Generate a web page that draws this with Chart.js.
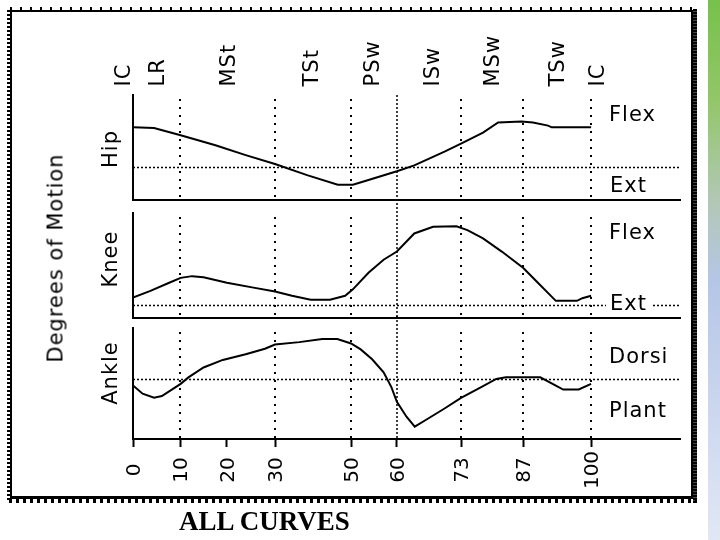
<!DOCTYPE html>
<html>
<head>
<meta charset="utf-8">
<script src="https://cdn.jsdelivr.net/npm/chart.js@4.4.0/dist/chart.umd.min.js"></script>
<style>
  html, body { margin: 0; padding: 0; background: #fff; }
  #wrap { position: relative; width: 720px; height: 540px; overflow: hidden; font-family: "DejaVu Sans", sans-serif; color: #000; }
  #wrap canvas { position: absolute; left: 0; top: 0; }
  .lbl { position: absolute; font-size: 21px; line-height: 21px; letter-spacing: 1px; white-space: nowrap; }
  .rot { position: absolute; font-size: 21px; line-height: 21px; letter-spacing: 1px; white-space: nowrap; transform: translate(-50%, -50%) rotate(-90deg); }
  .phase { position: absolute; font-size: 21px; line-height: 21px; letter-spacing: 1px; white-space: nowrap; transform-origin: left center; transform: rotate(-90deg); }
  .tick { position: absolute; font-size: 20px; line-height: 20px; white-space: nowrap; transform: translate(-50%, -50%) rotate(-90deg); }
  #frame { position: absolute; left: 10px; top: 10px; width: 683px; height: 489px; box-sizing: border-box; border: 2px solid #000; border-bottom-width: 3px; }
  .comb { position: absolute; }
  #strip { position: absolute; left: 708px; top: 0; width: 12px; height: 540px;
    background: linear-gradient(180deg, #77c14c 0%, #92c667 18%, #b2c8b8 38%, #b4c6e6 52%, #cbd6ef 75%, #e1e7f4 100%); }
  #caption { position: absolute; left: 179px; top: 508px; font-family: "Liberation Serif", serif; font-weight: bold; font-size: 27px; line-height: 26px; white-space: nowrap; }
</style>
</head>
<body>
<div id="wrap">
  <div id="strip"></div>
  <div id="frame"></div>
  <div class="comb" style="left:10px;top:7px;width:683px;height:3px;background:repeating-linear-gradient(90deg,#000 0 2px,transparent 2px 10px);"></div>
  <div class="comb" style="left:7px;top:10px;width:3px;height:492px;background:repeating-linear-gradient(180deg,#000 0 2px,transparent 2px 4px);"></div>
  <div class="comb" style="left:693px;top:9px;width:4px;height:494px;background:repeating-linear-gradient(180deg,#000 0 2px,#444 2px 3px);"></div>
  <div class="comb" style="left:9px;top:499px;width:688px;height:4px;background:repeating-linear-gradient(90deg,#000 0 3px,transparent 3px 7px);"></div>

  <canvas id="hipChart" width="720" height="540"></canvas>
  <canvas id="kneeChart" width="720" height="540"></canvas>
  <canvas id="ankleChart" width="720" height="540"></canvas>

  <div class="rot" style="left:56px;top:258px;">Degrees of Motion</div>
  <div class="rot" style="left:110px;top:149px;">Hip</div>
  <div class="rot" style="left:110px;top:259px;">Knee</div>
  <div class="rot" style="left:110px;top:373px;">Ankle</div>

  <div class="lbl" style="left:609px;top:104px;">Flex</div>
  <div class="lbl" style="left:610px;top:175px;">Ext</div>
  <div class="lbl" style="left:609px;top:222px;">Flex</div>
  <div class="lbl" style="left:606px;top:293px;background:#fff;padding:0 4px;">Ext</div>
  <div class="lbl" style="left:609px;top:346px;">Dorsi</div>
  <div class="lbl" style="left:609px;top:400px;">Plant</div>

  <div id="caption">ALL CURVES</div>
</div>
<script>
// x runs in axis units: 0 = start of the cycle, 100 = end (the drawing spaces the phases unevenly)
const xMax = 119.4;
const tickPos = [0, 10.3, 20.5, 31, 47.6, 57.6, 71.6, 85.2, 100];
const tickLabels = ['0', '10', '20', '30', '50', '60', '73', '87', '100'];
const gridPos = [10.3, 31, 47.6, 71.6, 85.2, 100];
const swingPos = 57.6;
const phaseLabels = ['IC', 'LR', 'MSt', 'TSt', 'PSw', 'ISw', 'MSw', 'TSw', 'IC'];
const phasePos = [-2.2, 5.2, 20.7, 38.9, 52.2, 65.3, 78.4, 92.6, 101.3];

const hipX = [0, 4.6, 10.4, 18, 24.6, 31, 38, 44.7, 48, 51.4, 57.6, 61.4, 68, 71.6, 76.4, 79.7, 84.8, 87.3, 90.6, 91.4, 100];
const hipY = [30, 29.5, 24, 16.5, 9, 2.2, -6.2, -13.5, -13.5, -9.8, -3.2, 1.2, 11.6, 17.7, 26, 33.7, 34.5, 33.7, 31.3, 30, 30];

const kneeX = [0, 3.8, 7.9, 10.4, 12.9, 15.4, 20.5, 26.3, 31, 34.7, 38.8, 43, 46.3, 48, 51.4, 54.7, 57.6, 61.4, 65.5, 70.6, 73, 76.4, 80.5, 85.2, 88, 92.3, 96.9, 98.1, 100];
const kneeY = [5.7, 10.7, 16.9, 20.6, 21.9, 21.1, 16.9, 13.2, 10.2, 7, 4, 4, 7, 11.9, 24.4, 34.3, 40.5, 54.2, 59.2, 59.7, 56.7, 50.5, 40.5, 28.1, 18.2, 3.2, 3.2, 5.2, 7];

const ankleX = [0, 2.1, 4.6, 6.3, 10.4, 12.1, 15.4, 19.6, 24.6, 28.8, 31, 36.3, 41.3, 44.6, 47.6, 49.7, 52.2, 54.7, 56.4, 57.6, 59.7, 61.5, 63.9, 68, 71.6, 75.6, 79.3, 81.4, 88.9, 92.3, 93.9, 97.3, 100];
const ankleY = [-5, -11.2, -14.2, -12.9, -3.7, 1.2, 8.7, 14.4, 18.7, 22.9, 26.1, 27.9, 30.3, 30.3, 26.9, 22.4, 14.9, 5, -6.2, -17.4, -28.6, -36.1, -31.1, -22.4, -14.4, -7, 0, 1.2, 1.2, -5, -8, -8, -3.7];

Chart.defaults.font.family = '"DejaVu Sans", sans-serif';

// dotted guides: phase verticals, the swing line, and the neutral (0) line
const panelGuides = {
  id: 'panelGuides',
  beforeDatasetsDraw(chart, args, opts) {
    const { ctx, chartArea: a, scales: { x, y } } = chart;
    ctx.save();
    ctx.strokeStyle = '#000';

    ctx.lineWidth = 2;
    ctx.setLineDash([2, 6]);
    gridPos.forEach(v => {
      const px = Math.round(x.getPixelForValue(v));
      ctx.beginPath();
      ctx.moveTo(px, a.top + 4);
      ctx.lineTo(px, a.bottom);
      ctx.stroke();
    });

    ctx.lineWidth = 1.5;
    ctx.setLineDash([2, 2]);
    const sx = Math.round(x.getPixelForValue(swingPos));
    ctx.beginPath();
    ctx.moveTo(sx, a.top - opts.reach);
    ctx.lineTo(sx, a.bottom);
    ctx.stroke();

    const zy = Math.round(y.getPixelForValue(0)) + 0.5;
    ctx.beginPath();
    ctx.moveTo(a.left, zy);
    ctx.lineTo(a.right, zy);
    ctx.stroke();
    ctx.restore();
  }
};

const makePanel = (id, xs, ys, yMin, yMax, top, bottom, withAxis, reach) => {
  const axisH = withAxis ? 60 : 0;
  return new Chart(document.getElementById(id), {
    type: 'line',
    data: {
      datasets: [{
        data: xs.map((v, i) => ({ x: v, y: ys[i] })),
        borderColor: '#000',
        borderWidth: 2,
        pointRadius: 0,
        tension: 0,
        fill: false
      }]
    },
    plugins: [panelGuides],
    options: {
      responsive: false,
      animation: false,
      events: [],
      layout: { padding: { left: 133, right: 40, top: top, bottom: 540 - bottom - axisH } },
      plugins: {
        legend: { display: false },
        tooltip: { enabled: false },
        panelGuides: { reach: reach }
      },
      scales: {
        x: {
          type: 'linear',
          min: 0,
          max: xMax,
          afterBuildTicks: s => { s.ticks = tickPos.map(v => ({ value: v })); },
          ticks: { display: false },
          grid: {
            display: withAxis,
            drawOnChartArea: false,
            drawTicks: true,
            tickLength: 8,
            tickWidth: 2,
            tickColor: '#000',
            color: '#000'
          },
          border: { display: true, color: '#000', width: 2 },
          afterFit: s => { s.height = axisH; }
        },
        y: {
          min: yMin,
          max: yMax,
          ticks: { display: false },
          grid: { display: false },
          border: { display: true, color: '#000', width: 2 },
          afterFit: s => { s.width = 0; }
        }
      }
    }
  });
};

const wrap = document.getElementById('wrap');
const addText = (cls, text, left, top) => {
  const d = document.createElement('div');
  d.className = cls;
  d.textContent = text;
  d.style.left = left + 'px';
  d.style.top = top + 'px';
  wrap.appendChild(d);
};

try {
  const hip = makePanel('hipChart', hipX, hipY, -25, 54.5, 95, 200, false, 0);
  makePanel('kneeChart', kneeX, kneeY, -9.8, 69.7, 213, 318, false, 14);
  const ankle = makePanel('ankleChart', ankleX, ankleY, -45.5, 38.6, 328, 439, true, 12);

  // phase names above the hip panel
  phaseLabels.forEach((t, i) => {
    addText('phase', t, hip.scales.x.getPixelForValue(phasePos[i]), 86 - 10.5);
  });

  // percent labels under the ankle axis
  const ax = ankle.scales.x;
  tickLabels.forEach((t, i) => {
    addText('tick', t, ax.getPixelForValue(tickPos[i]), ax.top + 31);
  });
} catch (err) {
  console.error('Error rendering chart:', err);
}
</script>
</body>
</html>
